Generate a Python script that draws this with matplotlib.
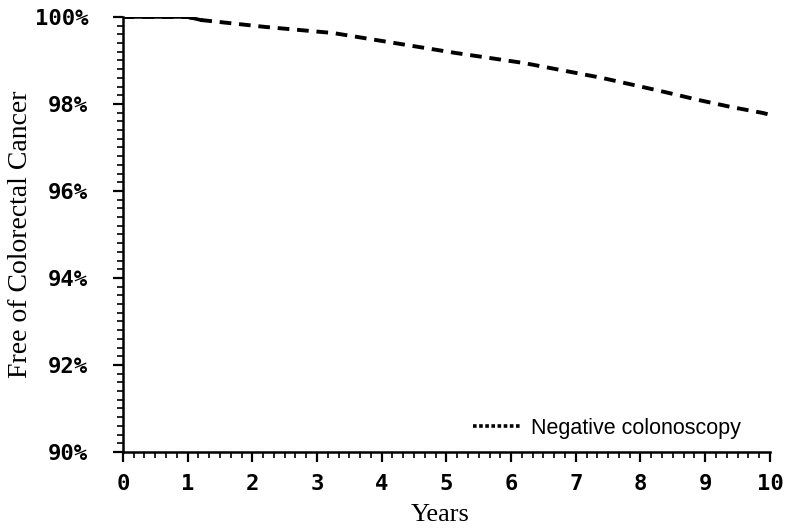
import numpy as np
import matplotlib.pyplot as plt
from matplotlib.ticker import MultipleLocator, FuncFormatter

# Kaplan-Meier style curve
years = [0.0, 1.0, 1.2, 2.2, 3.25, 4.2, 5.15, 6.2, 7.4, 8.3, 8.9, 9.4, 9.9, 10.0]
free_pct = [100.0, 100.0, 99.93, 99.77, 99.63, 99.40, 99.17, 98.94, 98.60, 98.30, 98.09, 97.93, 97.79, 97.75]
series_label = 'Negative colonoscopy'
x_ticks = list(range(0, 11))
y_ticks = [90, 92, 94, 96, 98, 100]

fig = plt.figure(figsize=(7.88, 5.29), dpi=100)
ax = fig.add_axes([0.156, 0.1456, 0.821, 0.8224])

x = np.array(years)
y = np.array(free_pct)
ax.plot(x, y, color='black', lw=2.8, linestyle=(0, (3.0, 2.0)), label=series_label,
        solid_capstyle='butt', dash_capstyle='butt')
first = x <= 1.2
ax.plot(x[first], y[first], color='black', lw=2.6)

ax.set_xlim(0, 10)
ax.set_ylim(90, 100)
ax.set_xticks(x_ticks)
ax.set_yticks(y_ticks)
ax.xaxis.set_minor_locator(MultipleLocator(1 / 6))
ax.yaxis.set_minor_locator(MultipleLocator(0.2))
ax.yaxis.set_major_formatter(FuncFormatter(lambda v, p: f'{v:.0f}%'))

for s in ['top', 'right']:
    ax.spines[s].set_visible(False)
for s in ['left', 'bottom']:
    ax.spines[s].set_linewidth(1.8)
ax.tick_params(which='major', direction='out', length=7, width=1.6)
ax.tick_params(axis='x', which='major', pad=9)
ax.tick_params(axis='y', which='major', pad=18)
ax.tick_params(which='minor', direction='out', length=4, width=1.2)

for lab in ax.get_xticklabels() + ax.get_yticklabels():
    lab.set_fontfamily('DejaVu Sans Mono')
    lab.set_fontweight('bold')
    lab.set_fontsize(16)

ax.set_ylabel('Free of Colorectal Cancer', family='Liberation Serif', fontsize=20, va='center')
ax.yaxis.set_label_coords(-0.158, 0.5)
ax.set_xlabel('Years', family='Liberation Serif', fontsize=19, va='center')
ax.xaxis.set_label_coords(0.49, -0.145)

ax.legend(handles=[plt.Line2D([], [], color='black', lw=2.6, linestyle=(0, (1.0, 0.7)))],
          labels=[series_label], loc='center right', bbox_to_anchor=(0.985, 0.055),
          frameon=False, handlelength=2.3, handletextpad=0.4,
          prop={'family': ['Liberation Sans Narrow', 'Liberation Sans'], 'size': 15.5})

fig.savefig('out.png', dpi=100)
